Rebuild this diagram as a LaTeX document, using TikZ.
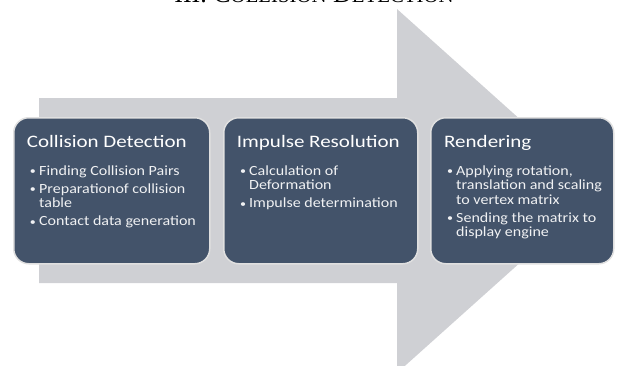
\documentclass[tikz,border=0pt]{standalone}
\usepackage{fontspec}
\newfontfamily\stagetitlefont[FakeStretch=1.2]{Carlito}
\newfontfamily\stagebulletfont[FakeStretch=1.145]{Carlito}
\newfontfamily\captionserif{Liberation Serif}
\definecolor{boxblue}{RGB}{67,83,106}
\definecolor{arrowgrey}{RGB}{207,208,212}
\definecolor{txtgrey}{RGB}{240,241,243}
\newcommand\itemdot{\strut\makebox[10pt][l]{\hspace{0.8pt}\raisebox{0.6pt}{\fontsize{10.5}{10.5}\selectfont •}}}
\newcommand\itemcont{\strut\hspace*{10pt}}
\newcommand\smc[1]{{\fontsize{20.8}{22}\selectfont #1}}
\begin{document}
\begin{tikzpicture}[x=1pt,y=-1pt,
  stage/.style={fill=boxblue, draw=white!88!black, line width=1.5pt,
    rounded corners=15pt, minimum height=146pt, anchor=north west, inner sep=0pt},
  stagetitle/.style={anchor=base west, inner sep=0pt, text=white,
    font=\stagetitlefont\fontsize{17.5}{20}\selectfont},
  stagelist/.style={anchor=north west, inner sep=0pt, text=txtgrey, align=left,
    font=\stagebulletfont\fontsize{14}{14.5}\selectfont},
]
\useasboundingbox (0,0) rectangle (625,365);
% caption (cut at the top)
\node[anchor=base, inner sep=0pt, font=\captionserif\fontsize{26}{28}\selectfont] (cap) at (314,2.5)
  {III. C\smc{OLLISION} D\smc{ETECTION}};
% big background arrow
\fill[arrowgrey] (39,98) -- (397,98) -- (397,9) -- (600,191) -- (397,373)
  -- (397,283) -- (39,283) -- cycle;
% stage boxes
\node[stage, minimum width=196pt] (s1) at (13,117) {};
\node[stage, minimum width=194pt] (s2) at (223,117) {};
\node[stage, minimum width=183pt] (s3) at (430,117) {};
% titles
\node[stagetitle] (t1) at ([xshift=13.7pt,yshift=-30.7pt]s1.north west) {Collision Detection};
\node[stagetitle] (t2) at ([xshift=13.7pt,yshift=-30.7pt]s2.north west) {Impulse Resolution};
\node[stagetitle] (t3) at ([xshift=14pt,yshift=-30.7pt]s3.north west) {Rendering};
% bullet lists
\node[stagelist] (l1) at ([xshift=16pt,yshift=-48pt]s1.north west)
  {\itemdot Finding Collision Pairs\\[3.5pt]
   \itemdot Preparationof collision\\
   \itemcont table\\[3.5pt]
   \itemdot Contact data generation};
\node[stagelist] (l2) at ([xshift=16pt,yshift=-48pt]s2.north west)
  {\itemdot Calculation of\\
   \itemcont Deformation\\[3.5pt]
   \itemdot Impulse determination};
\node[stagelist] (l3) at ([xshift=16pt,yshift=-48pt]s3.north west)
  {\itemdot Applying rotation,\\
   \itemcont translation and scaling\\
   \itemcont to vertex matrix\\[3.5pt]
   \itemdot Sending the matrix to\\
   \itemcont display engine};
\end{tikzpicture}
\end{document}
